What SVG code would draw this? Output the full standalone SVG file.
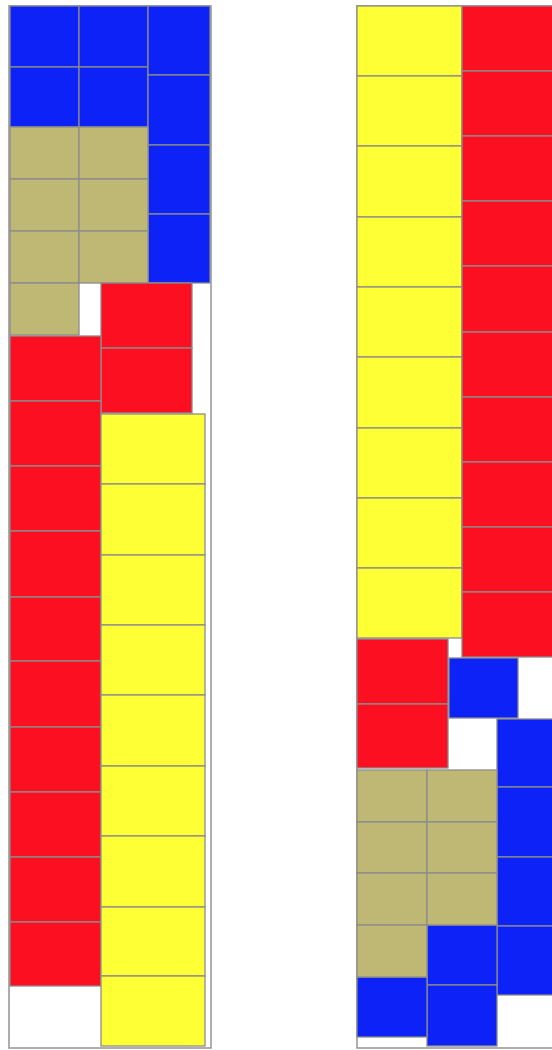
<svg xmlns="http://www.w3.org/2000/svg" width="552" height="1050" viewBox="0 0 552 1050">
<style>
rect{stroke:#8c8c8c;stroke-width:1.3}
rect.bg{fill:#fff;stroke:none}
.c{fill:#fff;stroke:#9a9a9a;stroke-width:1.6}
.b{fill:#0c22f7}
.r{fill:#fc0f20}
.y{fill:#ffff35}
.t{fill:#bfb774}
</style>
<rect class="bg" width="552" height="1050"/>
<g id="container1"><rect class="c" x="9" y="6" width="202" height="1042"/></g>
<g id="container2"><rect class="c" x="357" y="6" width="210" height="1042"/></g>
<g id="left">
<g id="L-blue">
<rect class="b" x="10" y="6" width="69" height="61"/>
<rect class="b" x="79" y="6" width="69" height="61"/>
<rect class="b" x="10" y="67" width="69" height="60"/>
<rect class="b" x="79" y="67" width="69" height="60"/>
<rect class="b" x="148" y="6" width="62" height="69"/>
<rect class="b" x="148" y="75" width="62" height="70"/>
<rect class="b" x="148" y="145" width="62" height="69"/>
<rect class="b" x="148" y="214" width="62" height="69"/>
</g>
<g id="L-tan">
<rect class="t" x="10" y="127" width="69" height="52"/>
<rect class="t" x="79" y="127" width="69" height="52"/>
<rect class="t" x="10" y="179" width="69" height="52"/>
<rect class="t" x="79" y="179" width="69" height="52"/>
<rect class="t" x="10" y="231" width="69" height="52"/>
<rect class="t" x="79" y="231" width="69" height="52"/>
<rect class="t" x="10" y="283" width="69" height="52"/>
</g>
<g id="L-red">
<rect class="r" x="101" y="283" width="91" height="65"/>
<rect class="r" x="101" y="348" width="91" height="65"/>
<rect class="r" x="10" y="336" width="91" height="65"/>
<rect class="r" x="10" y="401" width="91" height="65"/>
<rect class="r" x="10" y="466" width="91" height="65"/>
<rect class="r" x="10" y="531" width="91" height="66"/>
<rect class="r" x="10" y="597" width="91" height="64"/>
<rect class="r" x="10" y="661" width="91" height="66"/>
<rect class="r" x="10" y="727" width="91" height="65"/>
<rect class="r" x="10" y="792" width="91" height="65"/>
<rect class="r" x="10" y="857" width="91" height="65"/>
<rect class="r" x="10" y="922" width="91" height="64"/>
</g>
<g id="L-yellow">
<rect class="y" x="101" y="414" width="104" height="70"/>
<rect class="y" x="101" y="484" width="104" height="71"/>
<rect class="y" x="101" y="555" width="104" height="70"/>
<rect class="y" x="101" y="625" width="104" height="70"/>
<rect class="y" x="101" y="695" width="104" height="71"/>
<rect class="y" x="101" y="766" width="104" height="70"/>
<rect class="y" x="101" y="836" width="104" height="71"/>
<rect class="y" x="101" y="907" width="104" height="69"/>
<rect class="y" x="101" y="976" width="104" height="70"/>
</g>
</g>
<g id="right">
<g id="R-yellow">
<rect class="y" x="357" y="6" width="105" height="70"/>
<rect class="y" x="357" y="76" width="105" height="70"/>
<rect class="y" x="357" y="146" width="105" height="71"/>
<rect class="y" x="357" y="217" width="105" height="70"/>
<rect class="y" x="357" y="287" width="105" height="70"/>
<rect class="y" x="357" y="357" width="105" height="71"/>
<rect class="y" x="357" y="428" width="105" height="70"/>
<rect class="y" x="357" y="498" width="105" height="70"/>
<rect class="y" x="357" y="568" width="105" height="70"/>
</g>
<g id="R-red">
<rect class="r" x="462" y="6" width="91" height="65"/>
<rect class="r" x="462" y="71" width="91" height="65"/>
<rect class="r" x="462" y="136" width="91" height="65"/>
<rect class="r" x="462" y="201" width="91" height="65"/>
<rect class="r" x="462" y="266" width="91" height="66"/>
<rect class="r" x="462" y="332" width="91" height="65"/>
<rect class="r" x="462" y="397" width="91" height="65"/>
<rect class="r" x="462" y="462" width="91" height="65"/>
<rect class="r" x="462" y="527" width="91" height="65"/>
<rect class="r" x="462" y="592" width="91" height="65"/>
<rect class="r" x="357" y="639" width="91" height="65"/>
<rect class="r" x="357" y="704" width="91" height="64"/>
</g>
<g id="R-blue">
<rect class="b" x="449" y="658" width="69" height="60"/>
<rect class="b" x="497" y="719" width="62" height="68"/>
<rect class="b" x="497" y="787" width="62" height="70"/>
<rect class="b" x="497" y="857" width="62" height="69"/>
<rect class="b" x="497" y="926" width="62" height="69"/>
<rect class="b" x="427" y="925" width="70" height="60"/>
<rect class="b" x="427" y="985" width="70" height="61"/>
<rect class="b" x="357" y="977" width="70" height="60"/>
</g>
<g id="R-tan">
<rect class="t" x="357" y="770" width="70" height="52"/>
<rect class="t" x="427" y="770" width="70" height="52"/>
<rect class="t" x="357" y="822" width="70" height="51"/>
<rect class="t" x="427" y="822" width="70" height="51"/>
<rect class="t" x="357" y="873" width="70" height="52"/>
<rect class="t" x="427" y="873" width="70" height="52"/>
<rect class="t" x="357" y="925" width="70" height="52"/>
</g>
</g>
<g id="connectors"/>
</svg>
